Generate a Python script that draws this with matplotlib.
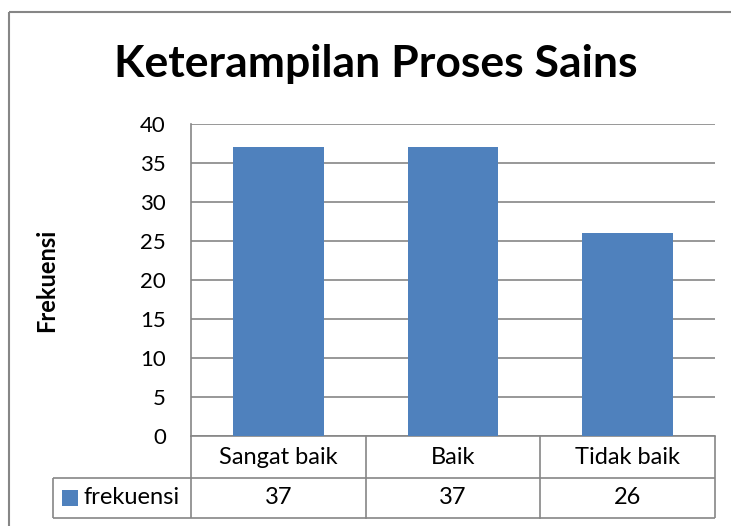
import matplotlib.pyplot as plt
from matplotlib.lines import Line2D
from matplotlib.patches import Rectangle

# data
categories = ['Sangat baik', 'Baik', 'Tidak baik']
frekuensi = [37, 37, 26]
series_name = 'frekuensi'
yticks = [0, 5, 10, 15, 20, 25, 30, 35, 40]

plt.rcParams['font.family'] = ['Lato', 'DejaVu Sans']

bar_color = '#4F81BD'
line_color = '#868686'

W, H = 731, 526
fig = plt.figure(figsize=(W / 100, H / 100), dpi=100)
# plot area in pixels: x 191..715, y 124..436
ax = fig.add_axes([191 / W, 1 - 436 / H, (715 - 191) / W, (436 - 124) / H])

x = list(range(len(categories)))
ax.bar(x, frekuensi, width=0.52, color=bar_color, zorder=3)
ax.set_xlim(-0.5, len(categories) - 0.5)
ax.set_ylim(0, 40)
ax.set_yticks(yticks)
ax.set_yticklabels([str(v) for v in yticks], fontsize=16)
ax.tick_params(axis='y', length=0, pad=18)
ax.set_xticks([])
ax.grid(axis='y', color=line_color, linewidth=1.2, zorder=0)
for s in ['top', 'right']:
    ax.spines[s].set_visible(False)
for s in ['left', 'bottom']:
    ax.spines[s].set_color(line_color)
    ax.spines[s].set_linewidth(1.2)

ax.set_ylabel('Frekuensi', fontsize=17, fontweight='bold')
ax.yaxis.set_label_coords((58 - 191) / 524, 0.5)

fig.text(376 / W, 1 - 77 / H, 'Keterampilan Proses Sains', ha='center', va='baseline',
         fontsize=32, fontweight='bold')

# data table under the axis
h = 436 - 124
r1 = -42 / h
r2 = -82 / h
legend_left = (53 - 191) / 524
kw = dict(color=line_color, linewidth=1.2, clip_on=False, transform=ax.transAxes,
          solid_capstyle='butt')
ax.add_line(Line2D([legend_left, 1], [r1, r1], **kw))
ax.add_line(Line2D([legend_left, 1], [r2, r2], **kw))
ax.add_line(Line2D([legend_left, legend_left], [r1, r2], **kw))
ax.add_line(Line2D([1, 1], [0, r2], **kw))
ax.add_line(Line2D([0, 0], [0, r2], **kw))
xt = ax.get_xaxis_transform()
for i in range(1, len(categories)):
    ax.add_line(Line2D([i - 0.5, i - 0.5], [0, r2], color=line_color, linewidth=1.2,
                       clip_on=False, transform=xt))
for i, (c, v) in enumerate(zip(categories, frekuensi)):
    ax.text(i, r1 / 2, c, ha='center', va='center', fontsize=17, transform=xt)
    ax.text(i, (r1 + r2) / 2, str(v), ha='center', va='center', fontsize=17, transform=xt)

# legend key inside table
ax.add_patch(Rectangle(((62 - 191) / 524, (436 - 506) / h), 16 / 524, 16 / h,
                       facecolor=bar_color, edgecolor='none', transform=ax.transAxes, clip_on=False))
ax.text((83 - 191) / 524, (r1 + r2) / 2, series_name, ha='left', va='center',
        fontsize=17, transform=ax.transAxes)

# outer chart border (cropped at right and bottom)
fig.add_artist(Line2D([9 / W, 1], [1 - 12 / H, 1 - 12 / H], color=line_color,
                      linewidth=1.5, solid_capstyle='butt'))
fig.add_artist(Line2D([9 / W, 9 / W], [0, 1 - 12 / H], color=line_color,
                      linewidth=1.5, solid_capstyle='butt'))

fig.savefig('out.png', dpi=100)
